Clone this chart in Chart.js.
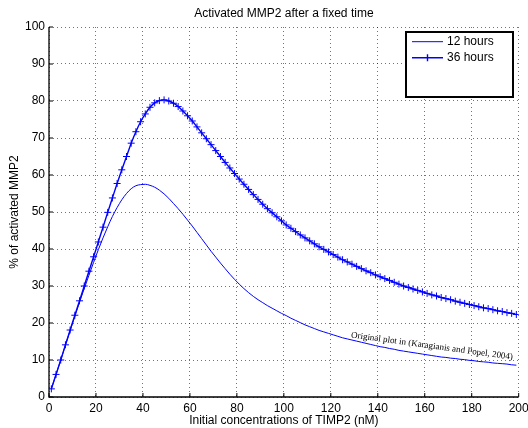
<!DOCTYPE html>
<html>
<head>
<meta charset="utf-8">
<script src="https://cdn.jsdelivr.net/npm/chart.js@4.4.1/dist/chart.umd.min.js"></script>
<style>
  html, body { margin: 0; padding: 0; background: #fff; }
  #wrap { width: 528px; height: 428px; }
</style>
</head>
<body>
<div id="wrap"><canvas id="mmp2-chart" width="528" height="428"></canvas></div>
<script>
// initial TIMP2 concentration (nM)
const concentrations = [
  1, 3, 5, 7, 9, 11, 13, 15, 17, 19, 21, 23, 25, 27, 29, 31, 33, 35, 37, 39,
  41, 43, 45, 47, 49, 51, 53, 55, 57, 59, 61, 63, 65, 67, 69, 71, 73, 75, 77, 79,
  81, 83, 85, 87, 89, 91, 93, 95, 97, 99, 101, 103, 105, 107, 109, 111, 113, 115, 117, 119,
  121, 123, 125, 127, 129, 131, 133, 135, 137, 139, 141, 143, 145, 147, 149, 151, 153, 155, 157, 159,
  161, 163, 165, 167, 169, 171, 173, 175, 177, 179, 181, 183, 185, 187, 189, 191, 193, 195, 197, 199
];

// % activated MMP2 after 12 hours
const hours12 = [
  2.2, 6.1, 10.0, 14.0, 17.9, 21.8, 25.6, 29.3, 32.9, 36.4, 39.8, 43.0, 46.0, 48.8, 51.2, 53.3, 55.0, 56.3, 57.1, 57.4,
  57.5, 57.2, 56.7, 55.9, 54.9, 53.7, 52.3, 50.9, 49.4, 47.8, 46.2, 44.5, 42.8, 41.1, 39.4, 37.8, 36.2, 34.7, 33.2, 31.8,
  30.5, 29.3, 28.2, 27.2, 26.3, 25.5, 24.7, 24.0, 23.3, 22.6, 22.0, 21.3, 20.7, 20.1, 19.5, 19.0, 18.5, 18.0, 17.6, 17.2,
  16.8, 16.4, 16.0, 15.7, 15.4, 15.1, 14.8, 14.5, 14.2, 13.9, 13.6, 13.4, 13.1, 12.9, 12.6, 12.4, 12.2, 12.0, 11.8, 11.6,
  11.4, 11.2, 11.0, 10.8, 10.7, 10.5, 10.4, 10.2, 10.1, 9.9, 9.8, 9.6, 9.5, 9.4, 9.2, 9.1, 9.0, 8.9, 8.7, 8.6
];

// % activated MMP2 after 36 hours
const hours36 = [
  2.2, 6.1, 10.0, 14.1, 18.1, 22.1, 26.0, 30.0, 34.0, 37.9, 41.9, 45.9, 49.9, 53.8, 57.7, 61.4, 65.0, 68.6, 71.7, 74.4,
  76.5, 78.3, 79.5, 80.1, 80.3, 80.0, 79.4, 78.5, 77.3, 76.0, 74.6, 73.0, 71.4, 69.8, 68.2, 66.6, 65.0, 63.4, 61.9, 60.4,
  58.9, 57.5, 56.1, 54.7, 53.4, 52.1, 50.9, 49.8, 48.7, 47.6, 46.5, 45.6, 44.7, 43.8, 43.0, 42.2, 41.4, 40.6, 39.9, 39.2,
  38.5, 37.8, 37.1, 36.5, 35.9, 35.3, 34.7, 34.1, 33.6, 33.0, 32.5, 32.0, 31.5, 31.0, 30.5, 30.0, 29.6, 29.2, 28.8, 28.4,
  28.0, 27.6, 27.3, 26.9, 26.6, 26.3, 25.9, 25.6, 25.3, 25.0, 24.7, 24.4, 24.1, 23.9, 23.6, 23.3, 23.1, 22.8, 22.6, 22.3
];

const seriesLabels = ['12 hours', '36 hours'];
const xTicks = [0, 20, 40, 60, 80, 100, 120, 140, 160, 180, 200];
const yTicks = [0, 10, 20, 30, 40, 50, 60, 70, 80, 90, 100];

const FONT = "'Liberation Sans', Arial, Helvetica, sans-serif";
const BLUE = '#0000ff';

const toPoints = (ys) => ys.map((y, i) => ({ x: concentrations[i], y }));

// axes (inward ticks), title, legend box and the citation note
const matlabFrame = {
  id: 'matlabFrame',
  afterDraw(chart) {
    const { ctx, chartArea: a, scales: { x, y } } = chart;
    ctx.save();

    // axis lines
    ctx.strokeStyle = '#000';
    ctx.lineWidth = 1.3;
    ctx.beginPath();
    ctx.moveTo(a.left, a.top);
    ctx.lineTo(a.left, a.bottom);
    ctx.lineTo(a.right, a.bottom);
    ctx.stroke();

    ctx.lineWidth = 1;
    ctx.beginPath();
    xTicks.forEach(v => {
      const px = x.getPixelForValue(v);
      ctx.moveTo(px, a.bottom);
      ctx.lineTo(px, a.bottom - 4);
    });
    yTicks.forEach(v => {
      const py = y.getPixelForValue(v);
      ctx.moveTo(a.left, py);
      ctx.lineTo(a.left + 4, py);
    });
    ctx.stroke();

    // title
    ctx.fillStyle = '#000';
    ctx.font = '12px ' + FONT;
    ctx.textAlign = 'center';
    ctx.textBaseline = 'middle';
    ctx.fillText('Activated MMP2 after a fixed time', (a.left + a.right) / 2, 13.5);

    // legend
    const box = { l: 406, t: 32, r: 513, b: 97 };
    ctx.fillStyle = '#fff';
    ctx.fillRect(box.l, box.t, box.r - box.l, box.b - box.t);
    ctx.strokeStyle = '#000';
    ctx.lineWidth = 2;
    ctx.strokeRect(box.l, box.t, box.r - box.l, box.b - box.t);

    const rows = [41.7, 57.7];
    ctx.strokeStyle = BLUE;
    ctx.lineWidth = 1;
    ctx.beginPath();
    ctx.moveTo(412, rows[0]);
    ctx.lineTo(443, rows[0]);
    ctx.stroke();
    ctx.lineWidth = 1.4;
    ctx.beginPath();
    ctx.moveTo(412, rows[1]);
    ctx.lineTo(443, rows[1]);
    ctx.moveTo(427.5, rows[1] - 3.5);
    ctx.lineTo(427.5, rows[1] + 3.5);
    ctx.stroke();

    ctx.fillStyle = '#000';
    ctx.font = '12px ' + FONT;
    ctx.textAlign = 'left';
    seriesLabels.forEach((t, i) => ctx.fillText(t, 447, rows[i]));

    // citation along the 12 h curve
    ctx.translate(x.getPixelForValue(128.5), y.getPixelForValue(16.1));
    ctx.rotate(7.8 * Math.PI / 180);
    ctx.font = "9px 'Liberation Serif', 'DejaVu Serif', serif";
    ctx.textBaseline = 'alphabetic';
    ctx.fillText('Original plot in (Karagianis and Popel, 2004)', 0, 0);

    ctx.restore();
  }
};

const gridStyle = { color: 'rgba(0,0,0,0.55)', lineWidth: 1, drawTicks: false };

new Chart(document.getElementById('mmp2-chart'), {
  type: 'line',
  data: {
    datasets: [
      {
        label: seriesLabels[0],
        data: toPoints(hours12),
        borderColor: BLUE,
        borderWidth: 1,
        pointRadius: 0,
        cubicInterpolationMode: 'monotone'
      },
      {
        label: seriesLabels[1],
        data: toPoints(hours36),
        borderColor: BLUE,
        borderWidth: 1.4,
        pointStyle: 'cross',
        pointRadius: 3.5,
        pointBorderWidth: 1,
        pointBorderColor: BLUE,
        cubicInterpolationMode: 'monotone'
      }
    ]
  },
  options: {
    responsive: false,
    animation: false,
    devicePixelRatio: 1,
    layout: { padding: { top: 27, right: 0, left: 0, bottom: 0 } },
    plugins: {
      legend: { display: false },
      title: { display: false },
      tooltip: { enabled: false }
    },
    scales: {
      x: {
        type: 'linear',
        min: 0,
        max: 200,
        afterBuildTicks: (s) => { s.ticks = xTicks.map(v => ({ value: v })); },
        afterFit: (s) => { s.height = 31; s.paddingRight = 9.3; s.paddingLeft = 0; },
        ticks: { color: '#000', font: { family: FONT, size: 12 }, padding: 4, maxRotation: 0 },
        grid: gridStyle,
        border: { display: false, dash: [1, 3] },
        title: {
          display: true,
          text: 'Initial concentrations of TIMP2 (nM)',
          color: '#000',
          font: { family: FONT, size: 12 },
          padding: { top: 0, bottom: 0 }
        }
      },
      y: {
        type: 'linear',
        min: 0,
        max: 100,
        afterBuildTicks: (s) => { s.ticks = yTicks.map(v => ({ value: v })); },
        afterFit: (s) => { s.width = 49; },
        ticks: { color: '#000', font: { family: FONT, size: 12 }, padding: 4 },
        grid: gridStyle,
        border: { display: false, dash: [1, 3] },
        title: {
          display: true,
          text: '% of activated MMP2',
          color: '#000',
          font: { family: FONT, size: 12 },
          padding: { top: 7, bottom: 0 }
        }
      }
    }
  },
  plugins: [matlabFrame]
});
</script>
</body>
</html>
